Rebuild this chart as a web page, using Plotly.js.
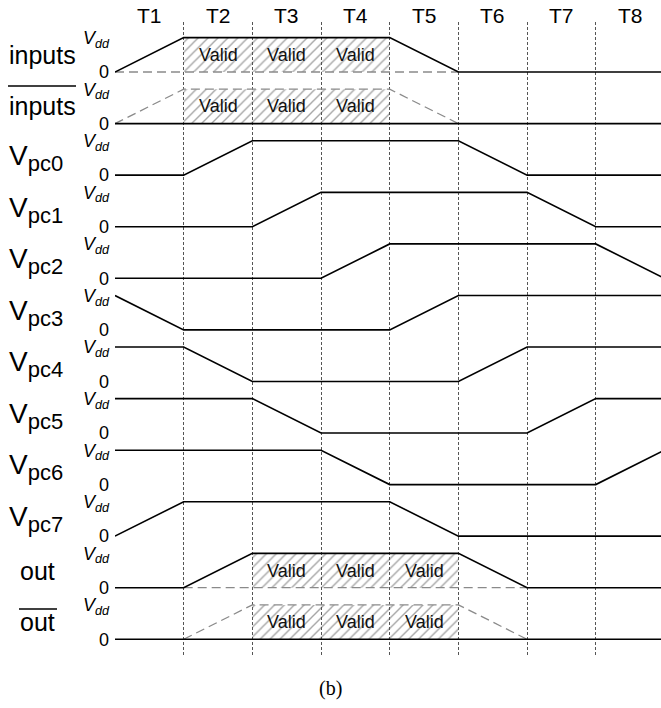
<!DOCTYPE html>
<html>
<head>
<meta charset="utf-8">
<script src="https://cdn.plot.ly/plotly-3.0.1.min.js"></script>
<style>html,body{margin:0;padding:0;background:#fff;}#chart{width:661px;height:708px;}</style>
</head>
<body>
<div id="chart"></div>
<script>
// ---- data ----
const periods = ['T1','T2','T3','T4','T5','T6','T7','T8'];
const boundaries = [0,1,2,3,4,5,6,7];
const times = [0,1,2,3,4,5,6,7,8];

const inputs       = [0,1,1,1,1,0,0,0,0];
const inputsAlt    = [0,0,0,0,0,0,null,null,null];
const inputsBar    = [0,0,0,0,0,0,0,0,0];
const inputsBarAlt = [0,1,1,1,1,0,null,null,null];
const vpc0 = [0,0,1,1,1,1,0,0,0];
const vpc1 = [0,0,0,1,1,1,1,0,0];
const vpc2 = [0,0,0,0,1,1,1,1,0];
const vpc3 = [1,0,0,0,0,1,1,1,1];
const vpc4 = [1,1,0,0,0,0,1,1,1];
const vpc5 = [1,1,1,0,0,0,0,1,1];
const vpc6 = [1,1,1,1,0,0,0,0,1];
const vpc7 = [0,1,1,1,1,0,0,0,0];
const out       = [0,0,1,1,1,1,0,0,0];
const outAlt    = [null,0,0,0,0,0,0,null,null];
const outBar    = [0,0,0,0,0,0,0,0,0];
const outBarAlt = [null,0,1,1,1,1,0,null,null];

const inputsValid = [1,4];
const outValid = [2,5];
const validText = 'Valid';
const zeroLabel = '0';
const vddLabel = '<i>V<sub>dd</sub></i>';
const caption = '(b)';

const rowLabels = ['inputs','inputs',
  'V<sub><span style="font-size:22px">pc0</span></sub>',
  'V<sub><span style="font-size:22px">pc1</span></sub>',
  'V<sub><span style="font-size:22px">pc2</span></sub>',
  'V<sub><span style="font-size:22px">pc3</span></sub>',
  'V<sub><span style="font-size:22px">pc4</span></sub>',
  'V<sub><span style="font-size:22px">pc5</span></sub>',
  'V<sub><span style="font-size:22px">pc6</span></sub>',
  'V<sub><span style="font-size:22px">pc7</span></sub>',
  'out','out'];
const rowSolid = [inputs, inputsBar, vpc0, vpc1, vpc2, vpc3, vpc4, vpc5, vpc6, vpc7, out, outBar];
const rowDashed = [inputsAlt, inputsBarAlt, null,null,null,null,null,null,null,null, outAlt, outBarAlt];
const rowValid = [inputsValid, inputsValid, null,null,null,null,null,null,null,null, outValid, outValid];

// ---- build ----
const N = rowSolid.length;
const pitch = 1.5;
const base = i => (N-1-i)*pitch;

const traces = [];
const annotations = [];
const shapes = [];
const tickvals = [], ticktext = [];

const FONT = 'Liberation Sans, Arial, sans-serif';

for (let i=0;i<N;i++){
  const b = base(i);
  tickvals.push(b, b+1);
  ticktext.push(zeroLabel, vddLabel);
  const v = rowValid[i];
  if (v){
    traces.push({x:[v[0],v[1],v[1],v[0],v[0]], y:[b,b,b+1,b+1,b], mode:'lines', fill:'toself',
      line:{width:0,color:'rgba(0,0,0,0)'}, fillcolor:'rgba(0,0,0,0)',
      fillpattern:{shape:'/', size:7, solidity:0.2, fgcolor:'#4d4d4d', bgcolor:'rgba(255,255,255,0)', fillmode:'overlay'},
      hoverinfo:'skip', showlegend:false});
    for (let t=v[0]; t<v[1]; t++){
      annotations.push({x:t+0.5, y:b+0.5, xref:'x', yref:'y', xanchor:'center', yanchor:'middle',
        text:validText, showarrow:false, font:{family:FONT, size:18, color:'#111'}});
    }
  }
}
for (let i=0;i<N;i++){
  const d = rowDashed[i];
  if (d){
    const b = base(i);
    traces.push({x:times, y:d.map(s=> s===null?null:b+s), mode:'lines', connectgaps:false,
      line:{color:'#8a8a8a', width:1.3, dash:'9px,5px'}, hoverinfo:'skip', showlegend:false});
  }
}
for (let i=0;i<N;i++){
  const b = base(i);
  traces.push({x:times, y:rowSolid[i].map(s=>b+s), mode:'lines',
    line:{color:'#000', width:1.6}, hoverinfo:'skip', showlegend:false});
}

// row labels
const plotL = 115, plotW = 546, plotT = 22, plotH = 635;
const px2paperX = px => (px-plotL)/plotW;
const py2paperY = py => 1-(py-plotT)/plotH;
for (let i=0;i<N;i++){
  const isOut = (i>=N-2);
  annotations.push({x: isOut? px2paperX(37.5) : px2paperX(7), xanchor: isOut?'center':'left',
    y: base(i)+0.5, yanchor:'middle', xref:'paper', yref:'y', text: rowLabels[i], showarrow:false,
    font:{family:FONT, size: rowLabels[i].startsWith('V')?28:25, color:'#000'}});
}
// overlines for complement rows
shapes.push({type:'line', xref:'paper', yref:'paper', x0:px2paperX(8), x1:px2paperX(76), y0:py2paperY(86), y1:py2paperY(86), line:{color:'#000', width:1.3}});
shapes.push({type:'line', xref:'paper', yref:'paper', x0:px2paperX(19), x1:px2paperX(57), y0:py2paperY(609), y1:py2paperY(609), line:{color:'#000', width:1.3}});

// period labels
periods.forEach((p,k)=>{
  annotations.push({x:k+0.5, y:py2paperY(16), xref:'x', yref:'paper', xanchor:'center', yanchor:'middle', text:p, showarrow:false,
    font:{family:FONT, size:21, color:'#000'}});
});
annotations.push({x:px2paperX(330), y:py2paperY(688), xref:'paper', yref:'paper', xanchor:'center', yanchor:'middle',
  text:caption, showarrow:false, font:{family:'Liberation Serif, DejaVu Serif, serif', size:20, color:'#000'}});

const layout = {
  width:661, height:708,
  margin:{l:plotL, r:661-plotL-plotW, t:plotT, b:708-plotT-plotH, pad:0},
  paper_bgcolor:'#fff', plot_bgcolor:'#fff',
  showlegend:false,
  xaxis:{range:[0,7.95], tickmode:'array', tickvals:boundaries, showticklabels:false, ticks:'',
    showgrid:true, gridcolor:'#555', gridwidth:1, griddash:'3px,2px', zeroline:false, showline:false, fixedrange:true},
  yaxis:{range:[-0.515,17.955], tickmode:'array', tickvals:tickvals, ticktext:ticktext, ticks:'',
    tickfont:{family:FONT, size:18, color:'#000'}, ticklabelstandoff:5,
    showgrid:false, zeroline:false, showline:false, fixedrange:true},
  annotations:annotations, shapes:shapes
};
Plotly.newPlot('chart', traces, layout, {staticPlot:true});
</script>
</body>
</html>
